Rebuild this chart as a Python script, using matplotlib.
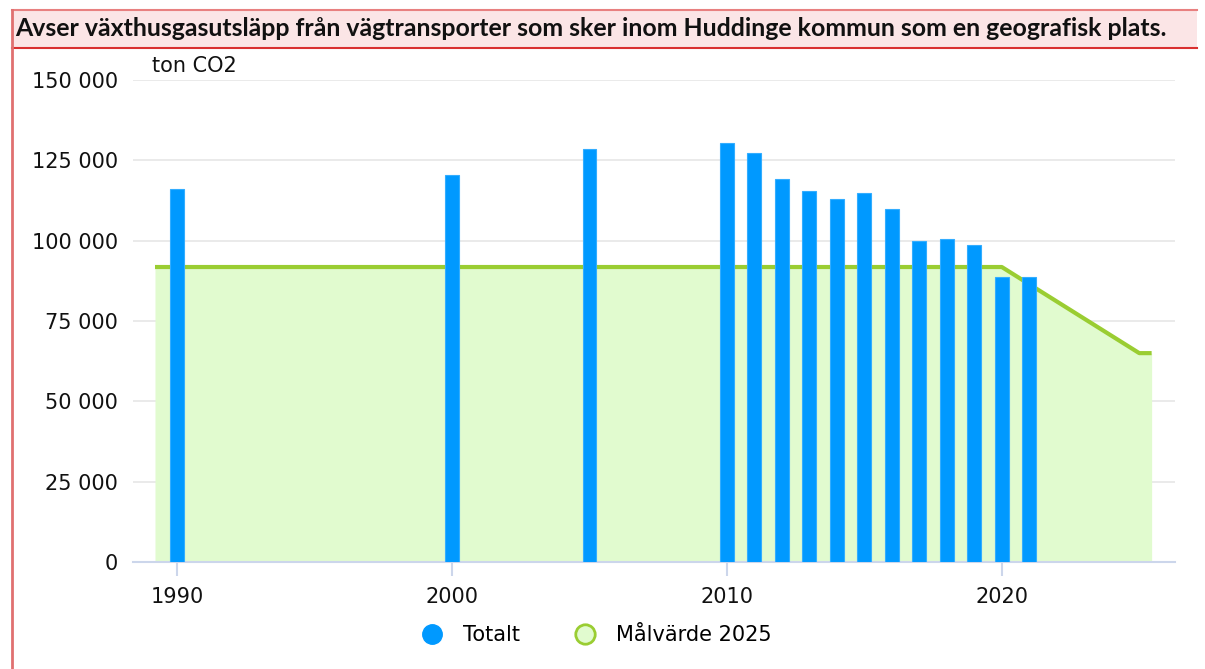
import matplotlib
matplotlib.use("Agg")
import matplotlib.pyplot as plt
from matplotlib.lines import Line2D
from matplotlib.patches import Rectangle

# data
years = [1990, 2000, 2005, 2010, 2011, 2012, 2013, 2014, 2015, 2016, 2017, 2018, 2019, 2020, 2021]
totalt = [116200, 120400, 128500, 130400, 127300, 119200, 115400, 112900, 114800, 109800,
          99800, 100400, 98600, 88700, 88700]
target_years = [1989.2, 2020, 2025, 2025.45]
target_vals = [91800, 91800, 65000, 65000]

title = "Avser växthusgasutsläpp från vägtransporter som sker inom Huddinge kommun som en geografisk plats."
unit = "ton CO2"

W, H = 1205, 669
fig = plt.figure(figsize=(W / 100, H / 100), dpi=100)

# title box and left border
fig.patches.append(Rectangle((12 / W, 1 - 48 / H), (1197 - 12) / W, 38 / H,
                             transform=fig.transFigure, facecolor="#fbe5e6", edgecolor="none"))
fig.lines.append(Line2D([12 / W, 1197 / W], [1 - 10 / H, 1 - 10 / H], transform=fig.transFigure,
                        color="#e88080", lw=1.5))
fig.lines.append(Line2D([12 / W, 1197 / W], [1 - 48 / H, 1 - 48 / H], transform=fig.transFigure,
                        color="#d93030", lw=1.5))
fig.lines.append(Line2D([12 / W, 12 / W], [0, 1 - 10 / H], transform=fig.transFigure,
                        color="#e07070", lw=2))
fig.text(15 / W, 1 - 29 / H, title, fontsize=17.9, fontweight="bold", family="Lato",
         va="center", ha="left", color="#111111")

ax = fig.add_axes([133 / W, 107 / H, (1175 - 133) / W, (562 - 80) / H])

ax.fill_between(target_years, target_vals, color="#e1fbcf", zorder=1, lw=0)
ax.plot(target_years, target_vals, color="#9acd32", lw=3, zorder=2, solid_capstyle="butt")
ax.bar(years, totalt, width=0.5, color="#0099ff", edgecolor="#33adff", lw=0.8, zorder=3)

ax.set_xlim(1988.4, 2026.3)
ax.set_ylim(0, 150000)
yt = [0, 25000, 50000, 75000, 100000, 125000, 150000]
ax.set_yticks(yt)
ax.set_yticklabels([f"{v:,}".replace(",", " ") for v in yt])
ax.set_xticks([1990, 2000, 2010, 2020])
ax.grid(axis="y", color="#e6e6e6", lw=1.2, zorder=0)
ax.set_axisbelow(True)
for s in ["top", "right", "left"]:
    ax.spines[s].set_visible(False)
ax.spines["bottom"].set_color("#ccd6eb")
ax.spines["bottom"].set_linewidth(1.5)
ax.tick_params(axis="y", length=0, pad=11, labelsize=15, labelcolor="#111111")
ax.tick_params(axis="x", length=10, width=1.5, color="#ccd6eb", pad=8, labelsize=15,
               labelcolor="#111111")

fig.text(152 / W, 1 - 66 / H, unit, fontsize=15, va="center", ha="left", color="#111111")

handles = [
    Line2D([], [], marker="o", ls="none", markersize=14, markerfacecolor="#0099ff",
           markeredgecolor="#0099ff"),
    Line2D([], [], marker="o", ls="none", markersize=14, markerfacecolor="#e1fbcf",
           markeredgecolor="#9acd32", markeredgewidth=2),
]
fig.legend(handles, ["Totalt", "Målvärde 2025"], loc="center", bbox_to_anchor=(0.491, 1 - 635 / H),
           ncol=2, frameon=False, fontsize=15, handletextpad=0.5, columnspacing=2.1)

fig.savefig("out.png", dpi=100)
